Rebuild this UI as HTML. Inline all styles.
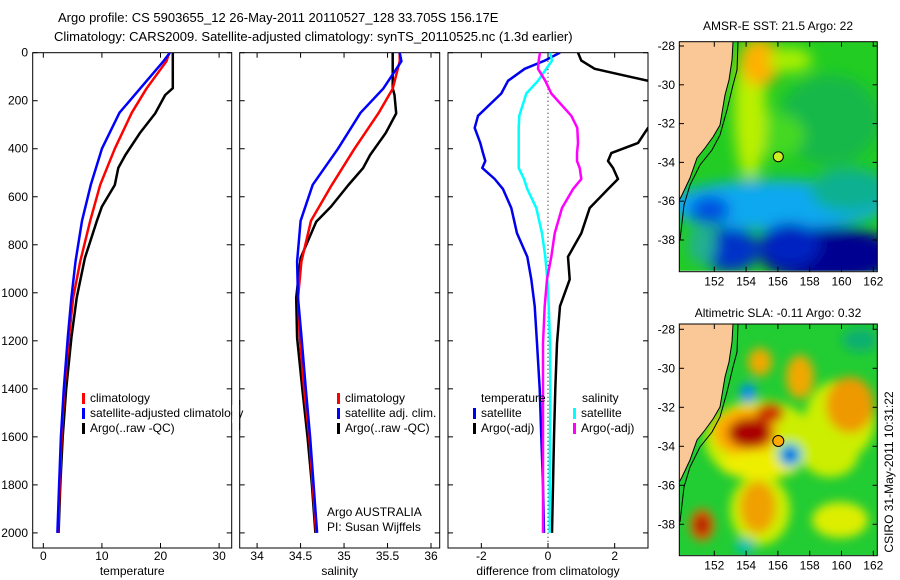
<!DOCTYPE html>
<html><head><meta charset="utf-8">
<style>
html,body{margin:0;padding:0;background:#fff;}
svg{display:block;font-family:"Liberation Sans",sans-serif;}
text{font-size:12px;fill:#000;}
</style></head>
<body>
<svg id="fig" width="900" height="580" viewBox="0 0 900 580" xmlns="http://www.w3.org/2000/svg">
<defs>
<filter id="blur1" x="-50%" y="-50%" width="200%" height="200%"><feGaussianBlur stdDeviation="7"/></filter>
<filter id="blur2" x="-50%" y="-50%" width="200%" height="200%"><feGaussianBlur stdDeviation="5"/></filter>
<clipPath id="cp1"><rect x="32.7" y="52.7" width="199" height="495.3"/></clipPath>
<clipPath id="cp2"><rect x="239.7" y="52.7" width="200" height="495.3"/></clipPath>
<clipPath id="cp3"><rect x="448" y="52.7" width="200" height="495.3"/></clipPath>
<clipPath id="cpm1"><rect x="679.3" y="41.7" width="198" height="229"/></clipPath>
<clipPath id="cpm2"><rect x="679.3" y="324" width="198" height="231"/></clipPath>
</defs>
<text x="58" y="22" style="font-size:13px">Argo profile: CS 5903655_12 26-May-2011 20110527_128 33.705S 156.17E</text>
<text x="54" y="41" style="font-size:13px">Climatology: CARS2009. Satellite-adjusted climatology: synTS_20110525.nc (1.3d earlier)</text>

<!-- SST map -->
<g clip-path="url(#cpm1)">
<rect x="679" y="41" width="200" height="232" fill="#22cc22"/>
<g filter="url(#blur1)">
<ellipse cx="830" cy="120" rx="50" ry="45" fill="#12b84a"/>
<ellipse cx="775" cy="135" rx="30" ry="22" fill="#44d820"/>
<ellipse cx="750" cy="110" rx="16" ry="70" fill="#bbf000"/>
<ellipse cx="760" cy="62" rx="20" ry="24" fill="#ffb000"/>
<ellipse cx="790" cy="60" rx="22" ry="12" fill="#aaf000"/>
<ellipse cx="775" cy="205" rx="110" ry="25" fill="#0aa8f0"/>
<ellipse cx="850" cy="190" rx="40" ry="22" fill="#10b090"/>
<ellipse cx="830" cy="255" rx="70" ry="28" fill="#000090"/>
<ellipse cx="790" cy="245" rx="30" ry="22" fill="#0020c0"/>
<ellipse cx="730" cy="250" rx="30" ry="22" fill="#0030c8"/>
<ellipse cx="702" cy="245" rx="14" ry="20" fill="#20b090"/>
<ellipse cx="710" cy="210" rx="20" ry="14" fill="#0050e0"/>
</g>
<polygon fill="#f9c896" points="679.3,41.7 733,41.7 732,60 729,80 725,95 720,125 713,137 705,148 697,158 690,178 682,195 679.3,200"/>
<polyline fill="none" stroke="#000" stroke-width="1" points="679.3,200 682,195 690,178 697,158 705,148 713,137 720,125 725,95 729,80 732,60 733,41.7"/>
<polyline fill="none" stroke="#000" stroke-width="1" points="738,41.7 737,70 733,85 727,110 720,135 712,150 700,165 690,185 684,205 680,240"/>
<circle cx="778.3" cy="156.7" r="5" fill="#ccee22" stroke="#000"/>
</g>
<rect x="679.3" y="41.7" width="198" height="230" fill="none" stroke="#000"/>
<text x="778" y="30" text-anchor="middle">AMSR-E SST: 21.5 Argo: 22</text>

<!-- SLA map -->
<g clip-path="url(#cpm2)">
<rect x="679" y="324" width="200" height="234" fill="#22cc33"/>
<g filter="url(#blur2)">
<ellipse cx="760" cy="440" rx="55" ry="40" fill="#ccee00"/>
<ellipse cx="840" cy="420" rx="35" ry="40" fill="#ccee00"/>
<ellipse cx="760" cy="510" rx="30" ry="35" fill="#ccee00"/>
<ellipse cx="745" cy="432" rx="32" ry="24" fill="#ffaa00"/>
<ellipse cx="830" cy="455" rx="28" ry="22" fill="#ccee00"/>
<ellipse cx="850" cy="405" rx="24" ry="28" fill="#ee9900"/>
<ellipse cx="800" cy="377" rx="14" ry="22" fill="#f0a800"/>
<ellipse cx="760" cy="362" rx="12" ry="14" fill="#f0a800"/>
<ellipse cx="758" cy="507" rx="18" ry="26" fill="#f0a000"/>
<ellipse cx="840" cy="520" rx="28" ry="18" fill="#ddee00"/>
<ellipse cx="760" cy="465" rx="40" ry="14" fill="#eeee00"/>
<ellipse cx="750" cy="433" rx="22" ry="15" fill="#aa0000"/>
<ellipse cx="770" cy="413" rx="14" ry="10" fill="#cc3300"/>
<ellipse cx="702" cy="525" rx="12" ry="16" fill="#ee6600"/>
<ellipse cx="702" cy="525" rx="7" ry="10" fill="#aa0000"/>
<ellipse cx="790" cy="455" rx="12" ry="12" fill="#00bbee"/>
<ellipse cx="790" cy="455" rx="6" ry="6" fill="#0030d0"/>
<ellipse cx="748" cy="393" rx="8" ry="10" fill="#0090ee"/>
<ellipse cx="860" cy="340" rx="18" ry="12" fill="#10b070"/>
<ellipse cx="745" cy="546" rx="10" ry="8" fill="#00c0b0"/>
</g>
<polygon fill="#f9c896" points="679.3,324 733,324 732,342 729,362 725,377 720,407 713,419 705,430 697,440 690,460 682,477 679.3,482"/>
<polyline fill="none" stroke="#000" stroke-width="1" points="679.3,482 682,477 690,460 697,440 705,430 713,419 720,407 725,377 729,362 732,342 733,324"/>
<polyline fill="none" stroke="#000" stroke-width="1" points="738,324 737,352 733,367 727,392 720,417 712,432 700,447 690,467 684,487 680,522"/>
<circle cx="778.3" cy="441" r="5.5" fill="#ffaa00" stroke="#000"/>
</g>
<rect x="679.3" y="324" width="198" height="231.7" fill="none" stroke="#000"/>
<text x="778" y="317" text-anchor="middle">Altimetric SLA: -0.11 Argo: 0.32</text>
<text transform="translate(893,472) rotate(-90)" text-anchor="middle">CSIRO 31-May-2011 10:31:22</text>

<g id="plots"></g>
</svg>
<script>
// ---- data (depth m, value) ----
const depths = [0,36,150,250,400,550,700,870,1020,1180,1400,1600,1800,2000];
const tempClim = [21.5,21.0,17.6,15.1,12.2,9.7,8.0,6.3,5.1,4.4,3.6,3.1,2.8,2.5];
const tempSat  = [21.6,20.5,16.5,13.0,10.0,8.1,6.6,5.5,4.8,4.2,3.5,3.0,2.7,2.4];
const argoDepths = [0,148,176,253,334,426,480,551,641,704,855,1021,1187,1400,1600,1800,2000];
const tempArgo = [22.1,22.1,20.8,19.1,16.5,14.0,12.8,12.2,10.0,9.1,7.1,5.7,4.8,3.9,3.3,2.9,2.6];
const salClim = [35.64,35.64,35.56,35.40,35.12,34.86,34.62,34.51,34.47,34.49,34.54,34.60,34.64,34.68];
const salSat  = [35.64,35.66,35.45,35.19,34.93,34.64,34.50,34.46,34.47,34.51,34.56,34.61,34.65,34.69];
const salArgo = [35.56,35.56,35.58,35.60,35.48,35.30,35.22,35.05,34.85,34.68,34.50,34.45,34.46,34.52,34.58,34.63,34.67];
const diffDepths = [0,33,67,117,170,263,313,376,418,451,480,526,568,647,752,850,944,1056,1210,1400,1600,1800,2000];
const dTempSat = [0.36,-0.1,-0.7,-1.2,-1.4,-2.1,-2.2,-2.03,-1.95,-1.88,-1.97,-1.6,-1.35,-1.1,-0.93,-0.62,-0.5,-0.4,-0.33,-0.25,-0.2,-0.15,-0.12];
const dTempArgo = [0.9,1.0,1.4,3.0,3.5,3.5,3.0,2.7,1.9,1.8,1.95,2.1,1.8,1.25,1.0,0.6,0.65,0.36,0.27,0.22,0.18,0.15,0.12];
const dSalSat = [0.06,0.12,-0.05,-0.3,-0.65,-0.86,-0.88,-0.88,-0.88,-0.88,-0.88,-0.72,-0.62,-0.35,-0.18,-0.08,-0.02,0.02,0.06,0.07,0.06,0.05,0.05];
const dSalArgo = [-0.24,-0.28,-0.3,-0.08,0.1,0.7,0.88,0.9,0.87,0.87,0.95,1.0,0.75,0.42,0.2,0.1,-0.03,-0.1,-0.15,-0.15,-0.15,-0.15,-0.15];
const depthTicks = [0,200,400,600,800,1000,1200,1400,1600,1800,2000];
const tempTicks = [0,10,20,30];
const salTicks = [34,34.5,35,35.5,36];
const diffTicks = [-2,0,2];
const mapLatTicks = [-28,-30,-32,-34,-36,-38];
const mapLonTicks = [152,154,156,158,160,162];

const NS='http://www.w3.org/2000/svg';
const root=document.getElementById('plots');
function mk(tag,attrs,parent){const e=document.createElementNS(NS,tag);for(const k in attrs)e.setAttribute(k,attrs[k]);(parent||root).appendChild(e);return e;}
const top0=52.7, bot=548;
function yD(d){return top0+d*0.2401;}
const panels=[
 {x0:32.7,x1:231.7,lo:-1.813,hi:32.15,ticks:tempTicks,title:'temperature',clip:'cp1',name:'temperature'},
 {x0:239.7,x1:439.7,lo:33.8,hi:36.1,ticks:salTicks,title:'salinity',clip:'cp2',name:'salinity'},
 {x0:448,x1:648,lo:-3,hi:3,ticks:diffTicks,title:'difference from climatology',clip:'cp3',name:'difference'}
];
function xf(p,v){return p.x0+(v-p.lo)/(p.hi-p.lo)*(p.x1-p.x0);}
panels.forEach((p,i)=>{
  const g=mk('g',{});
  
  
  mk('rect',{x:p.x0,y:top0,width:p.x1-p.x0,height:bot-top0,fill:'#fff',stroke:'#000','stroke-width':1},g);
  depthTicks.forEach(d=>{
    const y=yD(d);
    mk('line',{x1:p.x0,x2:p.x0+5,y1:y,y2:y,stroke:'#000'},g);
    mk('line',{x1:p.x1,x2:p.x1-5,y1:y,y2:y,stroke:'#000'},g);
    if(i===0){const t=mk('text',{x:28,y:y+4,'text-anchor':'end'},g);t.textContent=d;
      
      }
  });
  p.ticks.forEach(v=>{
    const x=xf(p,v);
    mk('line',{x1:x,x2:x,y1:top0,y2:top0+5,stroke:'#000'},g);
    mk('line',{x1:x,x2:x,y1:bot,y2:bot-5,stroke:'#000'},g);
    const t=mk('text',{x:x,y:560,'text-anchor':'middle'},g);t.textContent=v;
    
    
  });
  const tt=mk('text',{x:(p.x0+p.x1)/2,y:575,'text-anchor':'middle'},g);tt.textContent=p.title;
  
  
  p.g=g;
});
function line(p,ds,vs,color,name){
  const pts=ds.map((d,k)=>xf(p,vs[k]).toFixed(1)+','+yD(d).toFixed(1)).join(' ');
  const l=mk('polyline',{points:pts,fill:'none',stroke:color,'stroke-width':2.5,'stroke-linejoin':'round','clip-path':'url(#'+p.clip+')'},p.g);
  
  
}
{const p=panels[2];const x=xf(p,0);
 const z=mk('line',{x1:x,x2:x,y1:top0,y2:bot,stroke:'#000','stroke-dasharray':'1,3'},p.g);
 
 }
line(panels[0],argoDepths,tempArgo,'#000','temp-argo-line');
line(panels[0],depths,tempClim,'#f00','temp-climatology-line');
line(panels[0],depths,tempSat,'#00f','temp-satellite-line');
line(panels[1],argoDepths,salArgo,'#000','sal-argo-line');
line(panels[1],depths,salClim,'#f00','sal-climatology-line');
line(panels[1],depths,salSat,'#00f','sal-satellite-line');
line(panels[2],diffDepths,dTempArgo,'#000','dtemp-argo-line');
line(panels[2],diffDepths,dTempSat,'#0000ee','dtemp-satellite-line');
line(panels[2],diffDepths,dSalSat,'#00ffff','dsal-satellite-line');
line(panels[2],diffDepths,dSalArgo,'#ff00ff','dsal-argo-line');

function legend(x,y,color,label,name){
  if(color){const b=mk('rect',{x:x,y:y-9,width:3,height:11,fill:color});
   
   }
  const t=mk('text',{x:x+(color?8:0),y:y});t.textContent=label;
  
  
}
legend(82,402,'#f00','climatology','legend-temp-climatology');
legend(82,417,'#00f','satellite-adjusted climatology','legend-temp-satellite');
legend(82,432,'#000','Argo(..raw -QC)','legend-temp-argo');
mk('rect',{x:232.2,y:405,width:7,height:18,fill:'#fff'});
mk('line',{x1:239.7,x2:239.7,y1:400,y2:430,stroke:'#000'});
legend(337,402,'#f00','climatology','legend-sal-climatology');
legend(337,417,'#00f','satellite adj. clim.','legend-sal-satellite');
legend(337,432,'#000','Argo(..raw -QC)','legend-sal-argo');
legend(327,516,null,'Argo AUSTRALIA','argo-australia-label');
legend(327,531,null,'PI: Susan Wijffels','pi-label');
legend(481,402,null,'temperature','legend-temperature-header');
legend(473,417,'#0000ee','satellite','legend-dtemp-satellite');
legend(473,432,'#000','Argo(-adj)','legend-dtemp-argo');
legend(582,402,null,'salinity','legend-salinity-header');
legend(573,417,'#00ffff','satellite','legend-dsal-satellite');
legend(573,432,'#ff00ff','Argo(-adj)','legend-dsal-argo');

const maps=[{top:41.7,bot:271.7,lat0:46,ystep:19.4,name:'sst'},{top:324,bot:555.7,lat0:329.3,ystep:19.5,name:'sla'}];
maps.forEach(m=>{
  mapLatTicks.forEach((v,k)=>{
    const y=m.lat0+(-28-v)*m.ystep;
    mk('line',{x1:679.3,x2:684,y1:y,y2:y,stroke:'#000'});
    mk('line',{x1:877.3,x2:872.6,y1:y,y2:y,stroke:'#000'});
    const t=mk('text',{x:675,y:y+4,'text-anchor':'end'});t.textContent=v;
    
    
  });
  mapLonTicks.forEach(v=>{
    const x=714.3+(v-152)*15.9;
    mk('line',{x1:x,x2:x,y1:m.bot,y2:m.bot-5,stroke:'#000'});
    mk('line',{x1:x,x2:x,y1:m.top,y2:m.top+5,stroke:'#000'});
    const t=mk('text',{x:x,y:m.bot+14,'text-anchor':'middle'});t.textContent=v;
    
    
  });
});
</script>
</body></html>
